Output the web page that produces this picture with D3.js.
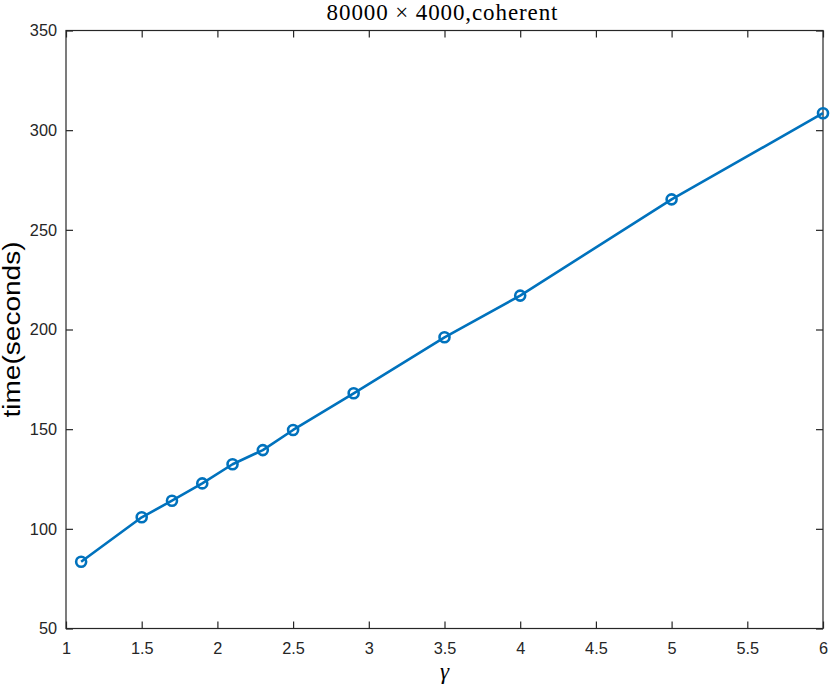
<!DOCTYPE html>
<html><head><meta charset="utf-8">
<script src="https://cdn.jsdelivr.net/npm/d3@7"></script>
<style>body{margin:0;background:#fff}</style>
</head><body>
<svg id="c" width="830" height="686"></svg>
<script>
const gammaValues = [1.1, 1.5, 1.7, 1.9, 2.1, 2.3, 2.5, 2.9, 3.5, 4.0, 5.0, 6.0];
const timeValues = [83.5, 105.8, 114.1, 122.8, 132.4, 139.5, 149.6, 168.0, 196.1, 217.0, 265.3, 308.5];
const xTicks = [1, 1.5, 2, 2.5, 3, 3.5, 4, 4.5, 5, 5.5, 6];
const yTicks = [50, 100, 150, 200, 250, 300, 350];
const titleText = "80000 \u00d7 4000,coherent";
const xLabel = "\u03b3";
const yLabel = "time(seconds)";

const svg = d3.select("#c");
const L = 66, R = 823, T = 30.5, B = 628.5;
const x = d3.scaleLinear().domain([1, 6]).range([L, R]);
const y = d3.scaleLinear().domain([50, 350]).range([B, T]);
const axisColor = "#262626";
const tickFont = "16.3px 'Liberation Sans', Arial, sans-serif";

// box
svg.append("rect").attr("x", L).attr("y", T).attr("width", R - L).attr("height", B - T)
  .attr("fill", "none").attr("stroke", axisColor).attr("stroke-width", 1.2);

const xb = svg.append("g").attr("transform", `translate(0,${B})`)
  .call(d3.axisBottom(x).tickValues(xTicks).tickSizeInner(-7).tickSizeOuter(0).tickPadding(14).tickFormat(d3.format("")));
const xt = svg.append("g").attr("transform", `translate(0,${T})`)
  .call(d3.axisTop(x).tickValues(xTicks).tickSizeInner(-7).tickSizeOuter(0).tickFormat(""));
const yl = svg.append("g").attr("transform", `translate(${L},0)`)
  .call(d3.axisLeft(y).tickValues(yTicks).tickSizeInner(-7).tickSizeOuter(0).tickPadding(9).tickFormat(d3.format("")));
const yr = svg.append("g").attr("transform", `translate(${R},0)`)
  .call(d3.axisRight(y).tickValues(yTicks).tickSizeInner(-7).tickSizeOuter(0).tickFormat(""));
[xb, xt, yl, yr].forEach(g => {
  g.select(".domain").remove();
  g.selectAll(".tick line").attr("stroke", axisColor).attr("stroke-width", 1.2);
  g.selectAll(".tick text").attr("fill", axisColor).style("font", tickFont);
});

// line
const line = d3.line().x((d, i) => x(gammaValues[i])).y(d => y(d));
svg.append("path").datum(timeValues).attr("d", line)
  .attr("fill", "none").attr("stroke", "#0072BD").attr("stroke-width", 2.6).attr("stroke-linejoin", "round");
svg.selectAll("circle.m").data(timeValues).join("circle").attr("class", "m")
  .attr("cx", (d, i) => x(gammaValues[i])).attr("cy", d => y(d)).attr("r", 5)
  .attr("fill", "none").attr("stroke", "#0072BD").attr("stroke-width", 2.6);

// title
svg.append("text").attr("x", 442.5).attr("y", 19.5).attr("text-anchor", "middle")
  .style("font", "23px 'Liberation Serif', 'DejaVu Serif', serif").style("letter-spacing", "0.9px")
  .attr("fill", "#000").text(titleText);
// x label
svg.append("text").attr("x", (L + R) / 2).attr("y", 679).attr("text-anchor", "middle")
  .style("font", "italic 23px 'Liberation Serif', 'DejaVu Serif', serif").attr("fill", "#000").text(xLabel);
// y label
svg.append("text").attr("transform", `translate(19.5,${(T + B) / 2}) rotate(-90)`).attr("text-anchor", "middle")
  .attr("textLength", 176).attr("lengthAdjust", "spacingAndGlyphs")
  .style("font", "23px 'Liberation Sans', Arial, sans-serif").attr("fill", "#000").text(yLabel);
</script>
</body></html>
